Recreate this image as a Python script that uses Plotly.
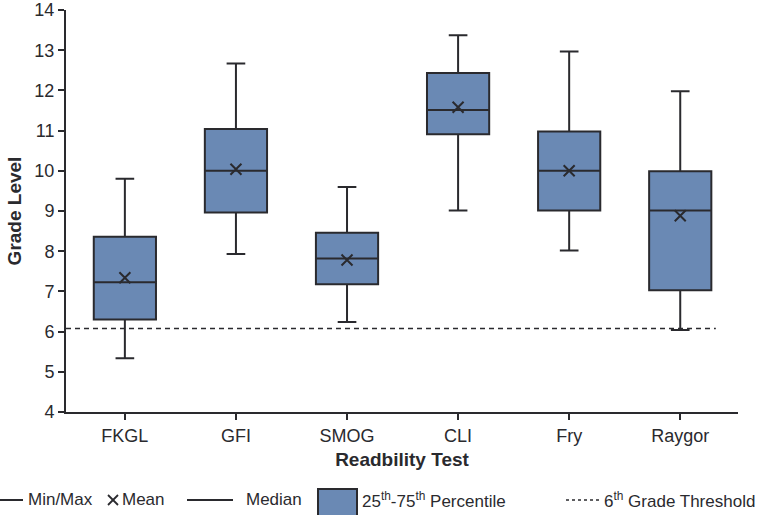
import plotly.graph_objects as go

# values
tests = ["FKGL", "GFI", "SMOG", "CLI", "Fry", "Raygor"]
mins = [5.34, 7.93, 6.24, 9.01, 8.02, 6.04]
q1s = [6.30, 8.96, 7.18, 10.91, 9.01, 7.03]
medians = [7.23, 10.0, 7.82, 11.51, 10.0, 9.01]
q3s = [8.36, 11.04, 8.46, 12.43, 10.98, 9.99]
maxs = [9.80, 12.67, 9.60, 13.37, 12.97, 11.98]
means = [7.34, 10.04, 7.78, 11.58, 10.0, 8.88]
threshold = 6.08

DARK = "#2a2a2e"
FILL = "#6a89b4"
FONT = "Liberation Sans, Arial, sans-serif"

# plot area in pixels, used to place the hand-drawn legend
L, R, T, B = 66, 738, 10, 412


def px(x):
    return (x - L) / (R - L)


def py(y):
    return (B - y) / (B - T)


fig = go.Figure()

fig.add_trace(go.Box(
    x=tests,
    q1=q1s,
    median=medians,
    q3=q3s,
    lowerfence=mins,
    upperfence=maxs,
    fillcolor=FILL,
    line=dict(color=DARK, width=2),
    width=0.56,
    whiskerwidth=0.3,
    boxpoints=False,
    hoverinfo="skip",
    showlegend=False,
))

fig.add_trace(go.Scatter(
    x=tests,
    y=means,
    mode="markers",
    marker=dict(symbol="x-thin", size=11, line=dict(color=DARK, width=2)),
    showlegend=False,
))

# 6th grade threshold
fig.add_shape(type="line", xref="x domain", yref="y",
              x0=0, x1=0.967, y0=threshold, y1=threshold,
              line=dict(color=DARK, width=1.5, dash="5px,4px"))

# legend drawn by hand
ly = py(500)
shapes = [
    dict(x0=px(0), x1=px(23), y0=ly, y1=ly, line=dict(color=DARK, width=2)),
    dict(x0=px(187), x1=px(233), y0=ly, y1=ly, line=dict(color=DARK, width=2)),
    dict(x0=px(566), x1=px(600), y0=ly, y1=ly,
         line=dict(color=DARK, width=1.5, dash="3px,3px")),
    # the cross of the mean entry
    dict(x0=px(108), x1=px(118), y0=py(495), y1=py(505), line=dict(color=DARK, width=1.8)),
    dict(x0=px(108), x1=px(118), y0=py(505), y1=py(495), line=dict(color=DARK, width=1.8)),
]
for s in shapes:
    fig.add_shape(type="line", xref="paper", yref="paper", **s)
fig.add_shape(type="rect", xref="paper", yref="paper",
              x0=px(318), x1=px(357), y0=py(489), y1=py(516),
              fillcolor=FILL, line=dict(color=DARK, width=2))

legend_texts = [
    (26, "Min/Max"),
    (120, "Mean"),
    (244, "Median"),
    (360, "25<sup>th</sup>-75<sup>th</sup> Percentile"),
    (602, "6<sup>th</sup> Grade Threshold"),
]
for x, txt in legend_texts:
    fig.add_annotation(x=px(x), y=ly, xref="paper", yref="paper",
                       text=txt, showarrow=False, xanchor="left", yanchor="middle",
                       font=dict(size=17, color=DARK, family=FONT))

fig.update_layout(
    width=760, height=515,
    margin=dict(l=L, r=760 - R, t=T, b=515 - B),
    plot_bgcolor="white",
    paper_bgcolor="white",
    font=dict(family=FONT, size=18, color=DARK),
    showlegend=False,
)

fig.update_xaxes(
    range=[-0.53, 5.52], automargin=False,
    showline=True, linecolor=DARK, linewidth=2,
    ticks="outside", ticklen=6, tickwidth=1.5, tickcolor=DARK,
    showgrid=False, zeroline=False,
    title=dict(text="<b>Readbility Test</b>", font=dict(size=19), standoff=8),
)
fig.update_yaxes(
    range=[4, 14], dtick=1, automargin=False,
    showline=True, linecolor=DARK, linewidth=2,
    ticks="outside", ticklen=6, tickwidth=1.5, tickcolor=DARK,
    showgrid=False, zeroline=False,
    title=dict(text="<b>Grade Level</b>", font=dict(size=19), standoff=8),
)

# drop the page's default body margin so the figure sits at the window corner
fig.write_html("out.html", config={"displayModeBar": False},
               post_script="document.body.style.margin='0';")
